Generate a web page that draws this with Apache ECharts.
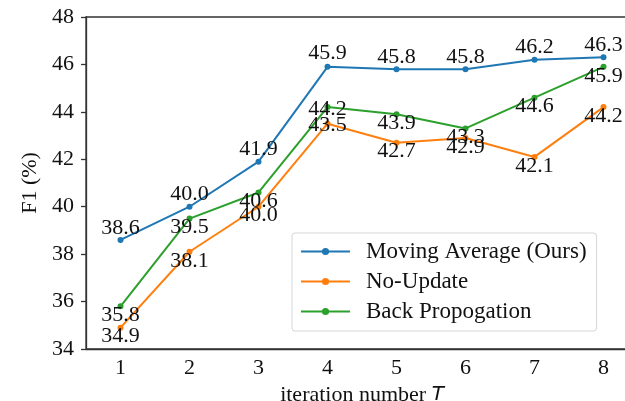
<!DOCTYPE html>
<html>
<head>
<meta charset="utf-8">
<script src="https://cdn.jsdelivr.net/npm/echarts@6/dist/echarts.min.js"></script>
<style>
	html, body { margin: 0; padding: 0; background: #fff; }
	#chart { width: 625px; height: 401px; }
</style>
</head>
<body>
<div id="chart"></div>
<script>
	var iterations = ['1', '2', '3', '4', '5', '6', '7', '8'];
	var movingAvg = [38.6, 40.0, 41.9, 45.9, 45.8, 45.8, 46.2, 46.3];
	var noUpdate = [34.9, 38.1, 40.0, 43.5, 42.7, 42.9, 42.1, 44.2];
	var backProp = [35.8, 39.5, 40.6, 44.2, 43.9, 43.3, 44.6, 45.9];

	var chart = echarts.init(document.getElementById('chart'));
	var font = 'Liberation Serif';

	// labels sit just under (or over) each marker, like the matplotlib annotations
	function makeSeries(name, color, values, dy) {
		return {
			name: name,
			type: 'line',
			data: values.map(function(v, i) {
				var item = { value: v };
				// the two labels at T=4 were nudged up in the original
				if (i === 3 && dy > 0) item.label = { offset: [0, 2] };
				if (i === 3 && dy < 0) item.label = { offset: [0, -14] };
				return item;
			}),
			symbol: 'circle',
			symbolSize: 6,
			color: color,
			lineStyle: { width: 2, color: color },
			itemStyle: { color: color },
			label: {
				show: true,
				position: 'inside',
				offset: [0, dy],
				color: '#111',
				fontFamily: font,
				fontSize: 22,
				formatter: function(p) { return p.value.toFixed(1); }
			},
			z: 2
		};
	}

	var option = {
		backgroundColor: '#fff',
		animation: false,
		grid: {
			left: 86,
			right: -13,
			top: 17,
			bottom: 52,
			outerBoundsMode: 'none',
			containLabel: false,
			show: true,
			borderColor: '#333',
			borderWidth: 1.3
		},
		legend: {
			orient: 'vertical',
			left: 292,
			top: 233,
			padding: [7, 10, 8, 8],
			itemWidth: 49,
			itemHeight: 9,
			itemGap: 7,
			borderColor: '#d6d6d6',
			borderWidth: 1,
			borderRadius: 3,
			backgroundColor: 'rgba(255,255,255,0.85)',
			textStyle: { fontFamily: font, fontSize: 23, color: '#111', padding: [0, 0, 0, 11] },
			data: ['Moving Average (Ours)', 'No-Update', 'Back Propogation']
		},
		xAxis: {
			type: 'category',
			data: iterations,
			boundaryGap: true,
			name: 'iteration number {t|T}',
			nameLocation: 'middle',
			nameGap: 25,
			nameTextStyle: {
				fontFamily: font,
				fontSize: 22,
				color: '#111',
				rich: { t: { fontFamily: 'DejaVu Sans', fontStyle: 'italic', fontSize: 20, color: '#111' } }
			},
			axisLine: { lineStyle: { color: '#333', width: 1.3 } },
			axisTick: { alignWithLabel: true, length: 5, lineStyle: { color: '#333', width: 1.3 } },
			axisLabel: { fontFamily: font, fontSize: 22, color: '#111', margin: 8 },
			splitLine: { show: false }
		},
		yAxis: {
			type: 'value',
			min: 34,
			max: 48,
			interval: 2,
			name: 'F1 (%)',
			nameLocation: 'middle',
			nameGap: 41,
			nameTextStyle: { fontFamily: font, fontSize: 22, color: '#111' },
			axisLine: { show: true, lineStyle: { color: '#333', width: 1.3 } },
			axisTick: { show: true, length: 5, lineStyle: { color: '#333', width: 1.3 } },
			axisLabel: { fontFamily: font, fontSize: 22, color: '#111', margin: 12 },
			splitLine: { show: false }
		},
		series: [
			makeSeries('Moving Average (Ours)', '#1f77b4', movingAvg, -12),
			makeSeries('No-Update', '#ff7f0e', noUpdate, 9),
			makeSeries('Back Propogation', '#2ca02c', backProp, 9)
		]
	};

	chart.setOption(option);
</script>
</body>
</html>
